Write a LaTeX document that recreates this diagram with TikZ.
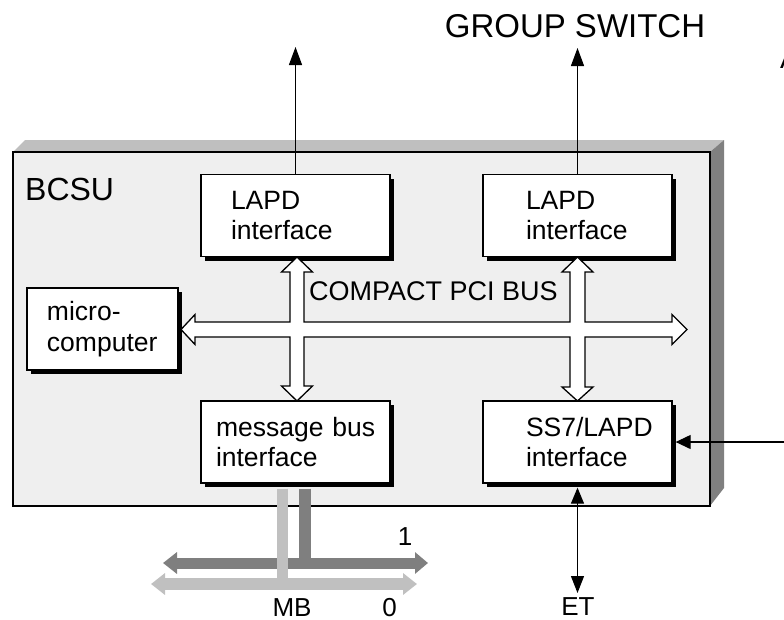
\documentclass[tikz,border=0pt]{standalone}
\usepackage{fontspec}
\setmainfont{Liberation Sans}
\usetikzlibrary{arrows.meta,shadows,calc}

\definecolor{facefront}{HTML}{EFEFEF}
\definecolor{facetop}{HTML}{BFBFBF}
\definecolor{faceside}{HTML}{808080}
\definecolor{busdark}{HTML}{7F7F7F}
\definecolor{buslight}{HTML}{C0C0C0}

\begin{document}
\begin{tikzpicture}[x=1pt,y=-1pt,
  unitbox/.style={draw=black, line width=1.3pt, fill=white, inner sep=0pt,
    text width=#1, align=left, minimum height=82pt,
    font=\fontsize{26.5}{30.5}\selectfont,
    drop shadow={shadow xshift=4pt, shadow yshift=-4pt, fill=black, opacity=1}},
  lbl/.style={inner sep=0pt, font=\fontsize{26}{30}\selectfont},
  sig/.style={line width=1.2pt, -{Triangle[length=18pt,width=13pt]}},
  sigboth/.style={line width=1.2pt, {Triangle[length=16pt,width=13pt]}-{Triangle[length=17pt,width=13pt]}},
  darkbus/.style={busdark, line width=11pt, {Triangle[length=14pt,width=21pt]}-{Triangle[length=13pt,width=21pt]}},
  lightbus/.style={buslight, line width=12pt, {Triangle[length=14pt,width=21pt]}-{Triangle[length=14pt,width=21pt]}}
]
\useasboundingbox (0,0) rectangle (784,619);

% BCSU cabinet drawn as a 3D slab
\fill[facetop] (13,152) -- (25,140) -- (724,140) -- (710,152) -- cycle;
\fill[faceside] (710,152) -- (724,140) -- (724,488) -- (710,506) -- cycle;
\draw[fill=facefront, line width=1.5pt] (13,152) rectangle (710,506);

\node[lbl, anchor=base west, font=\fontsize{32}{38}\selectfont] (bcsu) at (25,200) {BCSU};

% functional units
\node[unitbox=189pt] (lapdA) at (295.5,215.5) {\hspace*{30pt}LAPD\\\hspace*{30pt}interface};
\node[unitbox=189pt] (lapdB) at (577.5,215.5) {\hspace*{43pt}LAPD\\\hspace*{43pt}interface};
\node[unitbox=151pt] (micro) at (102.5,329) {\hspace*{20pt}micro-\\\hspace*{20pt}computer};
\node[unitbox=189pt] (mbi) at (295.5,442) {\hspace*{15pt}message bus\\\hspace*{15pt}interface};
\node[unitbox=189pt] (ss7) at (577.5,442) {\hspace*{43pt}SS7/LAPD\\\hspace*{43pt}interface};

% Compact PCI bus (hollow block arrows, merged at the crossings)
\draw[fill=white, line width=1.3pt]
  (181,329.5) -- (195,314.5) -- (195,322) -- (290,322) -- (290,272) -- (281.5,272)
  -- (297,257) -- (312.5,272) -- (304,272) -- (304,322) -- (570,322) -- (570,272)
  -- (562,272) -- (577.5,257) -- (593,272) -- (585,272) -- (585,322) -- (672,322)
  -- (672,314.5) -- (687,329.5) -- (672,344.5) -- (672,337) -- (585,337) -- (585,387)
  -- (593,387) -- (577.5,401) -- (562,387) -- (570,387) -- (570,337) -- (304,337)
  -- (304,386) -- (312.5,386) -- (297,401) -- (281.5,386) -- (290,386) -- (290,337)
  -- (195,337) -- (195,344.5) -- cycle;
\node[lbl, anchor=base west, font=\fontsize{27}{32}\selectfont] (pci) at (309,300) {COMPACT PCI BUS};

% links to the group switch
\coordinate (gsA) at (295.5,47);
\coordinate (gsB) at (577.5,48);
\draw[sig] (lapdA.north) -- (gsA);
\draw[sig] (lapdB.north) -- (gsB);
\node[lbl, anchor=base, font=\fontsize{33}{39}\selectfont] (gs) at (575,37) {GROUP SWITCH};
\node[lbl, anchor=base west, font=\fontsize{28}{34}\selectfont] (aside) at (780,68) {A};

% link to the exchange terminal and the incoming line
\coordinate (etEnd) at (577.5,593);
\draw[sigboth] ($(ss7.south)+(0,4)$) -- (etEnd);
\node[lbl, anchor=base] (et) at (578,615) {ET};
\coordinate (rightIn) at (800,442);
\draw[line width=1.2pt, -{Triangle[length=15pt,width=14pt]}] (rightIn) -- ($(ss7.east)+(3,0)$);

% duplicated message bus MB (branches 0 and 1)
\coordinate (mb1L) at (163,563);
\coordinate (mb1R) at (428,563);
\coordinate (mb0L) at (151,584);
\coordinate (mb0R) at (417,584);
\coordinate (tapDark) at ($(mbi.south)+(9,5)$);
\coordinate (tapLight) at ($(mbi.south)+(-13,5)$);
\draw[darkbus] (mb1L) -- (mb1R);
\draw[busdark, line width=12pt] (tapDark) -- (tapDark |- mb1L);
\draw[lightbus] (mb0L) -- (mb0R);
\draw[buslight, line width=11pt] (tapLight) -- (tapLight |- mb0L);
\node[lbl, anchor=base] (one) at (405,545) {1};
\node[lbl, anchor=base] (mb) at (292,616) {MB};
\node[lbl, anchor=base] (zero) at (389.5,616) {0};
\end{tikzpicture}
\end{document}
